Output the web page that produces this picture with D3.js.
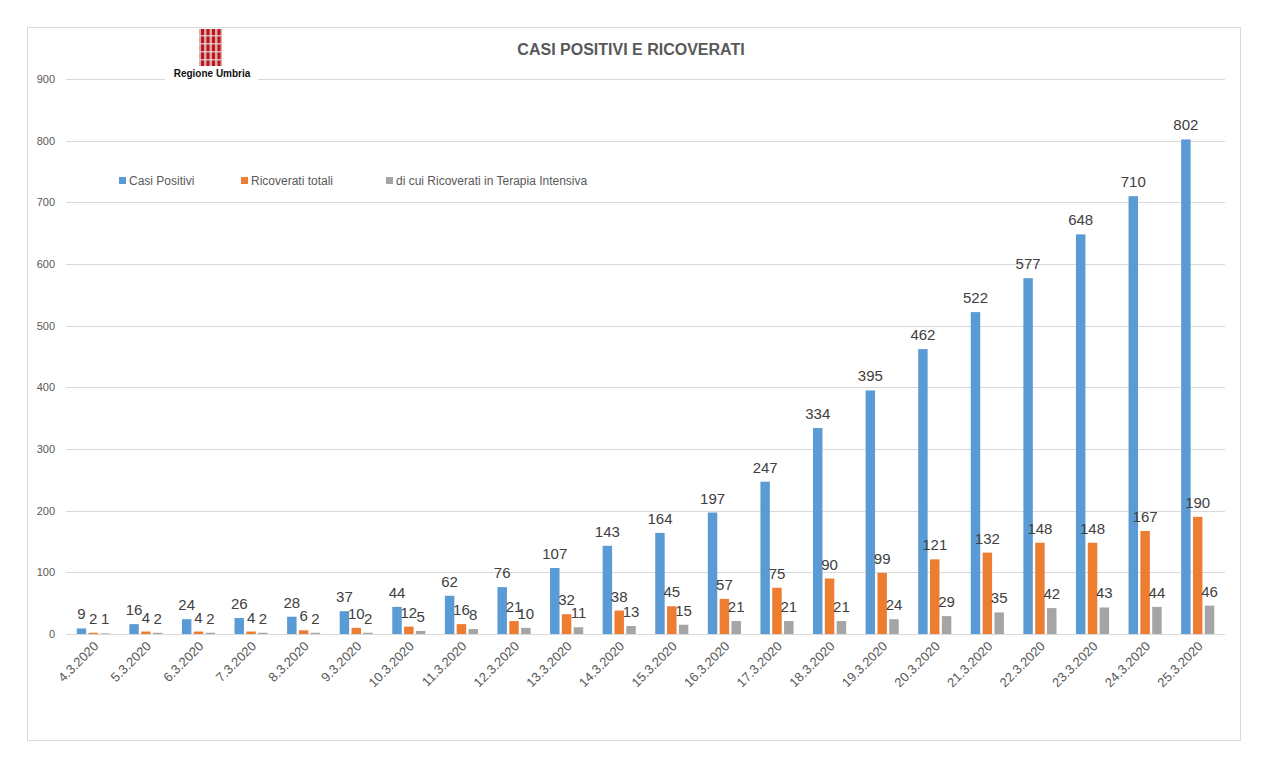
<!DOCTYPE html>
<html>
<head>
<meta charset="utf-8">
<script src="https://cdn.jsdelivr.net/npm/d3@7"></script>
<style>
  body { margin: 0; background: #fff; }
  svg { display: block; }
</style>
</head>
<body>
<svg id="chart" width="1269" height="761"></svg>
<script>
// dates on the x axis
var dates = ["4.3.2020", "5.3.2020", "6.3.2020", "7.3.2020", "8.3.2020", "9.3.2020", "10.3.2020",
             "11.3.2020", "12.3.2020", "13.3.2020", "14.3.2020", "15.3.2020", "16.3.2020", "17.3.2020",
             "18.3.2020", "19.3.2020", "20.3.2020", "21.3.2020", "22.3.2020", "23.3.2020", "24.3.2020", "25.3.2020"]

var casiPositivi = [9, 16, 24, 26, 28, 37, 44, 62, 76, 107, 143, 164, 197, 247, 334, 395, 462, 522, 577, 648, 710, 802]
var ricoveratiTotali = [2, 4, 4, 4, 6, 10, 12, 16, 21, 32, 38, 45, 57, 75, 90, 99, 121, 132, 148, 148, 167, 190]
var terapiaIntensiva = [1, 2, 2, 2, 2, 2, 5, 8, 10, 11, 13, 15, 21, 21, 21, 24, 29, 35, 42, 43, 44, 46]

var seriesNames = ["Casi Positivi", "Ricoverati totali", "di cui Ricoverati in Terapia Intensiva"]
var yTicks = [0, 100, 200, 300, 400, 500, 600, 700, 800, 900]

var colors = ["#5B9BD5", "#ED7D31", "#A5A5A5"]
var allSeries = [casiPositivi, ricoveratiTotali, terapiaIntensiva]

var dimensions = {
    width: 1269,
    height: 761,
    margin: { top: 79, bottom: 127, left: 67, right: 45 }
}

var svg = d3.select("#chart")

// outer frame
svg.append("rect")
   .attr("x", 27.5).attr("y", 27.5)
   .attr("width", 1213).attr("height", 713)
   .attr("fill", "#fff")
   .attr("stroke", "#D9D9D9")

var xScale = d3.scaleBand()
               .domain(dates)
               .range([dimensions.margin.left, dimensions.width - dimensions.margin.right])
               .paddingInner(0.37)
               .paddingOuter(0.185)

var xSub = d3.scaleBand()
             .domain(d3.range(3))
             .range([0, xScale.bandwidth()])
             .paddingInner(0.2)

var yScale = d3.scaleLinear()
               .domain([0, 900])
               .range([dimensions.height - dimensions.margin.bottom, dimensions.margin.top])

// gridlines
svg.append("g")
   .selectAll("line")
   .data(yTicks)
   .enter()
   .append("line")
   .attr("x1", 66)
   .attr("x2", 1225)
   .attr("y1", d => Math.round(yScale(d)) + 0.5)
   .attr("y2", d => Math.round(yScale(d)) + 0.5)
   .attr("stroke", "#D9D9D9")
   .attr("stroke-width", 1)

// y axis labels
var yAxisGen = d3.axisLeft(yScale).tickValues(yTicks).tickSize(0).tickPadding(0)
var yAxis = svg.append("g")
               .attr("transform", "translate(55,0)")
               .style("color", "#595959")
               .call(yAxisGen)
yAxis.select(".domain").remove()
yAxis.selectAll("text")
     .attr("fill", "#595959")
     .style("font-size", "11px")
     .style("font-family", "Liberation Sans, Arial, sans-serif")

// rows: one per date, three values each
var rows = dates.map((d, i) => ({ date: d, values: allSeries.map(s => s[i]) }))

var groups = svg.append("g")
                .selectAll("g")
                .data(rows)
                .enter()
                .append("g")
                .attr("transform", d => `translate(${xScale(d.date)},0)`)

groups.selectAll("rect")
      .data(d => d.values.map((v, k) => ({ k: k, v: v })))
      .enter()
      .append("rect")
      .attr("x", d => xSub(d.k))
      .attr("width", xSub.bandwidth())
      .attr("y", d => yScale(d.v))
      .attr("height", d => yScale(0) - yScale(d.v))
      .attr("fill", d => colors[d.k])

groups.selectAll("text")
      .data(d => d.values.map((v, k) => ({ k: k, v: v })))
      .enter()
      .append("text")
      .text(d => d.v)
      .attr("x", d => xSub(d.k) + xSub.bandwidth() / 2)
      .attr("y", d => yScale(d.v) - 9)
      .attr("text-anchor", "middle")
      .attr("fill", "#404040")
      .style("font-size", "15px")
      .style("font-family", "Liberation Sans, Arial, sans-serif")

// x axis labels
var xAxisGen = d3.axisBottom(xScale).tickSize(0).tickPadding(0)
var xAxis = svg.append("g")
               .attr("transform", `translate(0,${yScale(0)})`)
               .style("color", "#595959")
               .call(xAxisGen)
xAxis.select(".domain").remove()
xAxis.selectAll("text")
     .attr("fill", "#595959")
     .attr("text-anchor", "end")
     .attr("dy", 0)
     .attr("transform", "translate(6,13) rotate(-45)")
     .style("font-size", "13px")
     .style("font-family", "Liberation Sans, Arial, sans-serif")

// title
svg.append("text")
   .text("CASI POSITIVI E RICOVERATI")
   .attr("x", 631)
   .attr("y", 55)
   .attr("text-anchor", "middle")
   .attr("fill", "#595959")
   .style("font-size", "16px")
   .style("font-weight", "bold")
   .style("font-family", "Liberation Sans, Arial, sans-serif")

// legend
var legendX = [119, 241, 386]
var legend = svg.append("g")
                .selectAll("g")
                .data(seriesNames)
                .enter()
                .append("g")
                .attr("transform", (d, i) => `translate(${legendX[i]},177)`)
legend.append("rect")
      .attr("width", 7).attr("height", 7)
      .attr("fill", (d, i) => colors[i])
legend.append("text")
      .text(d => d)
      .attr("x", 10)
      .attr("y", 7.5)
      .attr("fill", "#595959")
      .style("font-size", "12px")
      .style("font-family", "Liberation Sans, Arial, sans-serif")

// Regione Umbria logo
var logo = svg.append("g")
logo.append("rect")
    .attr("x", 165).attr("y", 28).attr("width", 93).attr("height", 56)
    .attr("fill", "#fff")
logo.append("rect")
    .attr("x", 199).attr("y", 29).attr("width", 23).attr("height", 37)
    .attr("fill", "#D9A9A9")
d3.range(4).forEach(i => {
    logo.append("rect")
        .attr("x", 201 + i * 5.5).attr("y", 29).attr("width", 3).attr("height", 37)
        .attr("fill", "#C0141B")
})
d3.range(4).forEach(i => {
    logo.append("rect")
        .attr("x", 199).attr("y", 35 + i * 8).attr("width", 23).attr("height", 1.5)
        .attr("fill", "#E6D6D6")
        .attr("opacity", 0.8)
})
logo.append("text")
    .text("Regione Umbria")
    .attr("x", 212)
    .attr("y", 77)
    .attr("text-anchor", "middle")
    .attr("fill", "#111")
    .style("font-size", "10px")
    .style("font-weight", "bold")
    .style("font-family", "Liberation Sans, Arial, sans-serif")
</script>
</body>
</html>
